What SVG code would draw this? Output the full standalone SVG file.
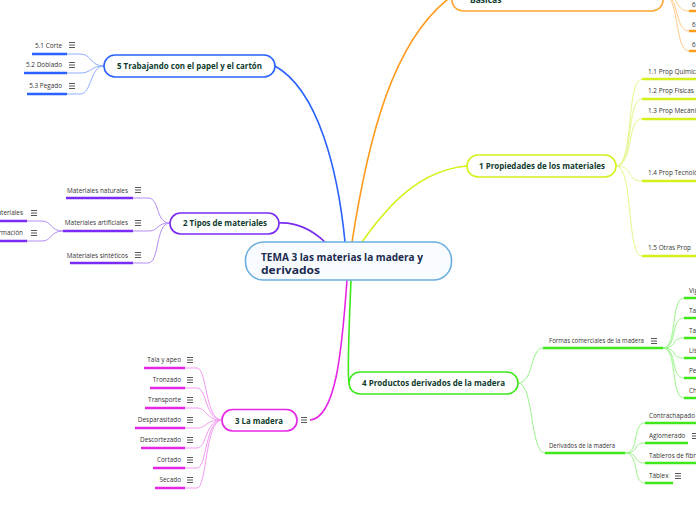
<svg xmlns="http://www.w3.org/2000/svg" width="696" height="520" viewBox="0 0 696 520">
<style>
.bg{fill:#ffffff}
.node{fill:#ffffff;stroke-width:1.6}
.nl{font-family:"Open Sans","Noto Sans","DejaVu Sans",sans-serif;font-weight:bold;font-size:8.5px;fill:#0d3b2c}
.cl{font-family:"Open Sans","Noto Sans","DejaVu Sans",sans-serif;font-size:6.4px;fill:#333333}
.ctr{font-family:"Open Sans","Noto Sans","DejaVu Sans",sans-serif;font-weight:bold;font-size:10.5px;fill:#1b2a4e}
.main{fill:none;stroke-width:1.6}
.thin{fill:none;stroke-width:1}
.ul{fill:none;stroke-width:2.4}
.ic{stroke:#444;stroke-width:0.9}
</style>
<defs>
<symbol id="menu" viewBox="0 0 6 6" overflow="visible">
<line class="ic" x1="0" y1="0.5" x2="6" y2="0.5"/>
<line class="ic" x1="0" y1="3" x2="6" y2="3"/>
<line class="ic" x1="0" y1="5.5" x2="6" y2="5.5"/>
</symbol>
</defs>
<rect class="bg" x="0" y="0" width="696" height="520"/>

<g id="connectors">
<!-- main branches -->
<path class="main" stroke="#2962ff" d="M345,242 C338,170 318,90 275,66"/>
<path class="main" stroke="#ff9a1a" d="M352,242 C368,140 392,40 452,-4"/>
<path class="main" stroke="#d6f01c" d="M362,242 C388,205 420,170 467,166"/>
<path class="main" stroke="#7a2cf5" d="M325,242 C312,230 296,222 279,223"/>
<path class="main" stroke="#e626e6" d="M347,280 C342,350 336,418 310,420"/>
<path class="main" stroke="#3ee81a" d="M351,280 C349,330 347,370 349,383"/>

<!-- node 5 children -->
<g stroke="#8fb0ff">
<path class="thin" d="M67,54 L80,54 C92,54 90,66 104,66"/>
<path class="thin" d="M67,73 L80,73 C92,73 90,66 104,66"/>
<path class="thin" d="M67,94 L80,94 C92,94 90,66 104,66"/>
</g>
<!-- node 2 children -->
<g stroke="#b48cf9">
<path class="thin" d="M133,198 L148,198 C160,198 155,223 170,223"/>
<path class="thin" d="M133,231 L148,231 C160,231 155,223 170,223"/>
<path class="thin" d="M133,263 L148,263 C160,263 155,223 170,223"/>
<path class="thin" d="M27,221 L42,221 C52,221 50,231 63,231"/>
<path class="thin" d="M27,241 L42,241 C52,241 50,231 63,231"/>
</g>
<!-- node 3 children -->
<g stroke="#f39af3">
<path class="thin" d="M185,368 L197,368 C207,368 205,420 222,420"/>
<path class="thin" d="M185,388 L197,388 C207,388 205,420 222,420"/>
<path class="thin" d="M185,408 L197,408 C207,408 205,420 222,420"/>
<path class="thin" d="M185,428 L197,428 C207,428 205,420 222,420"/>
<path class="thin" d="M185,448 L197,448 C207,448 205,420 222,420"/>
<path class="thin" d="M185,468 L197,468 C207,468 205,420 222,420"/>
<path class="thin" d="M185,488 L197,488 C207,488 205,420 222,420"/>
</g>
<!-- node 4 children -->
<g stroke="#9af58a">
<path class="thin" d="M518,383 C534,383 530,348 543,348"/>
<path class="thin" d="M518,383 C534,383 530,453 545,453"/>
<path class="thin" d="M663,348 C678,348 670,298 684,298"/>
<path class="thin" d="M663,348 C678,348 670,318 684,318"/>
<path class="thin" d="M663,348 C678,348 670,338 684,338"/>
<path class="thin" d="M663,348 C678,348 670,358 684,358"/>
<path class="thin" d="M663,348 C678,348 670,378 684,378"/>
<path class="thin" d="M663,348 C678,348 670,398 684,398"/>
<path class="thin" d="M625,453 C640,453 632,423 645,423"/>
<path class="thin" d="M625,453 C640,453 632,443 645,443"/>
<path class="thin" d="M625,453 C640,453 632,463 645,463"/>
<path class="thin" d="M625,453 C640,453 632,483 645,483"/>
</g>
<!-- node 1 children -->
<g stroke="#e6f58a">
<path class="thin" d="M616,166 C634,166 626,79 642,79"/>
<path class="thin" d="M616,166 C634,166 626,99 642,99"/>
<path class="thin" d="M616,166 C634,166 626,119 642,119"/>
<path class="thin" d="M616,166 C634,166 626,181 642,181"/>
<path class="thin" d="M616,166 C634,166 626,256 642,256"/>
</g>
<!-- node 6 children -->
<g stroke="#ffc98a">
<path class="thin" d="M663,-6 C680,-6 674,11 689,11"/>
<path class="thin" d="M663,-6 C680,-6 674,31 689,31"/>
<path class="thin" d="M663,-6 C680,-6 674,51 689,51"/>
</g>
</g>

<!-- central -->
<g id="center">
<rect x="245.5" y="242" width="206" height="38" rx="18" fill="#f8fbff" stroke="#6aaee0" stroke-width="1.6"/>
<text class="ctr" x="261" y="261" textLength="162" lengthAdjust="spacingAndGlyphs">TEMA 3 las materias la madera y</text>
<text class="ctr" x="261" y="274" textLength="59" lengthAdjust="spacingAndGlyphs">derivados</text>
</g>

<!-- node 6 (orange) -->
<g id="n6">
<rect class="node" x="452" y="-30" width="211" height="41" rx="11" stroke="#ffa733"/>
<text class="nl" x="470" y="3">Básicas</text>
<path class="ul" stroke="#ff9a1a" d="M689,11 H696 M689,31 H696 M689,51 H696"/>
<text class="cl" x="692" y="7">6.1</text>
<text class="cl" x="692" y="27">6.2</text>
<text class="cl" x="692" y="47">6.3</text>
</g>

<!-- node 5 -->
<g id="n5">
<rect class="node" x="104" y="55" width="171" height="22" rx="11" stroke="#2962ff"/>
<text class="nl" x="117" y="69" textLength="145" lengthAdjust="spacingAndGlyphs">5 Trabajando con el papel y el cartón</text>
<path class="ul" stroke="#2962ff" d="M32,54 H67 M24,73 H67 M27,94 H67"/>
<text class="cl" x="62" y="48" text-anchor="end">5.1 Corte</text>
<text class="cl" x="62" y="67" text-anchor="end">5.2 Doblado</text>
<text class="cl" x="62" y="88" text-anchor="end">5.3 Pegado</text>
<use href="#menu" x="69" y="42" width="6" height="6"/>
<use href="#menu" x="69" y="62" width="6" height="6"/>
<use href="#menu" x="69" y="83" width="6" height="6"/>
</g>

<!-- node 2 -->
<g id="n2">
<rect class="node" x="170" y="213" width="109" height="21" rx="10.5" stroke="#7a2cf5"/>
<text class="nl" x="183" y="226" textLength="84" lengthAdjust="spacingAndGlyphs">2 Tipos de materiales</text>
<path class="ul" stroke="#7a2cf5" d="M66,198 H133 M63,231 H133 M70,263 H133 M-2,221 H27 M-2,241 H27"/>
<text class="cl" x="128" y="193" text-anchor="end">Materiales naturales</text>
<text class="cl" x="128" y="225" text-anchor="end">Materiales artificiales</text>
<text class="cl" x="128" y="258" text-anchor="end">Materiales sintéticos</text>
<text class="cl" x="23" y="215" text-anchor="end">Nuevos materiales</text>
<text class="cl" x="23" y="235" text-anchor="end">Transformación</text>
<use href="#menu" x="135" y="187" width="6" height="6"/>
<use href="#menu" x="135" y="220" width="6" height="6"/>
<use href="#menu" x="135" y="252" width="6" height="6"/>
<use href="#menu" x="31" y="210" width="6" height="6"/>
<use href="#menu" x="31" y="230" width="6" height="6"/>
</g>

<!-- node 3 -->
<g id="n3">
<rect class="node" x="222" y="409.5" width="75" height="21.5" rx="10.5" stroke="#e626e6"/>
<text class="nl" x="235" y="423.5" textLength="48" lengthAdjust="spacingAndGlyphs">3 La madera</text>
<use href="#menu" x="301" y="417" width="6" height="6"/>
<path class="ul" stroke="#e626e6" d="M144,368 H185 M150,388 H185 M145,408 H185 M135,428 H185 M141,448 H185 M153,468 H185 M155,488 H185"/>
<text class="cl" x="181" y="362" text-anchor="end">Tala y apeo</text>
<text class="cl" x="181" y="382" text-anchor="end">Tronzado</text>
<text class="cl" x="181" y="402" text-anchor="end">Transporte</text>
<text class="cl" x="181" y="422" text-anchor="end">Desparasitado</text>
<text class="cl" x="181" y="442" text-anchor="end">Descortezado</text>
<text class="cl" x="181" y="462" text-anchor="end">Cortado</text>
<text class="cl" x="181" y="482" text-anchor="end">Secado</text>
<use href="#menu" x="187" y="357" width="6" height="6"/>
<use href="#menu" x="187" y="377" width="6" height="6"/>
<use href="#menu" x="187" y="397" width="6" height="6"/>
<use href="#menu" x="187" y="417" width="6" height="6"/>
<use href="#menu" x="187" y="437" width="6" height="6"/>
<use href="#menu" x="187" y="457" width="6" height="6"/>
<use href="#menu" x="187" y="477" width="6" height="6"/>
</g>

<!-- node 4 -->
<g id="n4">
<rect class="node" x="349" y="372" width="169" height="22" rx="11" stroke="#3ee81a"/>
<text class="nl" x="362" y="386" textLength="143" lengthAdjust="spacingAndGlyphs">4 Productos derivados de la  madera</text>
<path class="ul" stroke="#3ee81a" d="M543,348 H663 M545,453 H625 M684,298 H697 M684,318 H697 M684,338 H697 M684,358 H697 M684,378 H697 M684,398 H697 M645,423 H697 M645,443 H688 M645,463 H697 M645,483 H673"/>
<text class="cl" x="549" y="343" textLength="95" lengthAdjust="spacingAndGlyphs">Formas comerciales de la madera</text>
<use href="#menu" x="651" y="338" width="6" height="6"/>
<text class="cl" x="549" y="448" textLength="66" lengthAdjust="spacingAndGlyphs">Derivados de la madera</text>
<text class="cl" x="689" y="293">Vigas</text>
<text class="cl" x="689" y="313">Tablones</text>
<text class="cl" x="689" y="333">Tablas</text>
<text class="cl" x="689" y="353">Listones</text>
<text class="cl" x="689" y="373">Perfiles</text>
<text class="cl" x="689" y="393">Chapas</text>
<text class="cl" x="649" y="418">Contrachapado</text>
<text class="cl" x="649" y="438">Aglomerado</text>
<use href="#menu" x="692" y="433" width="6" height="6"/>
<text class="cl" x="649" y="458">Tableros de fibra</text>
<text class="cl" x="649" y="478">Táblex</text>
<use href="#menu" x="675" y="473" width="6" height="6"/>
</g>

<!-- node 1 -->
<g id="n1">
<rect class="node" x="467" y="155" width="149" height="22" rx="11" stroke="#d6f01c"/>
<text class="nl" x="479" y="169" textLength="126" lengthAdjust="spacingAndGlyphs">1 Propiedades de los materiales</text>
<path class="ul" stroke="#d6f01c" d="M642,79 H697 M642,99 H697 M642,119 H697 M642,181 H697 M642,256 H697"/>
<text class="cl" x="648" y="74">1.1 Prop Químicas</text>
<text class="cl" x="648" y="93">1.2 Prop Físicas</text>
<text class="cl" x="648" y="113">1.3 Prop Mecánicas</text>
<text class="cl" x="648" y="175">1.4 Prop  Tecnológicas</text>
<text class="cl" x="648" y="250">1.5 Otras Prop</text>
</g>
</svg>
